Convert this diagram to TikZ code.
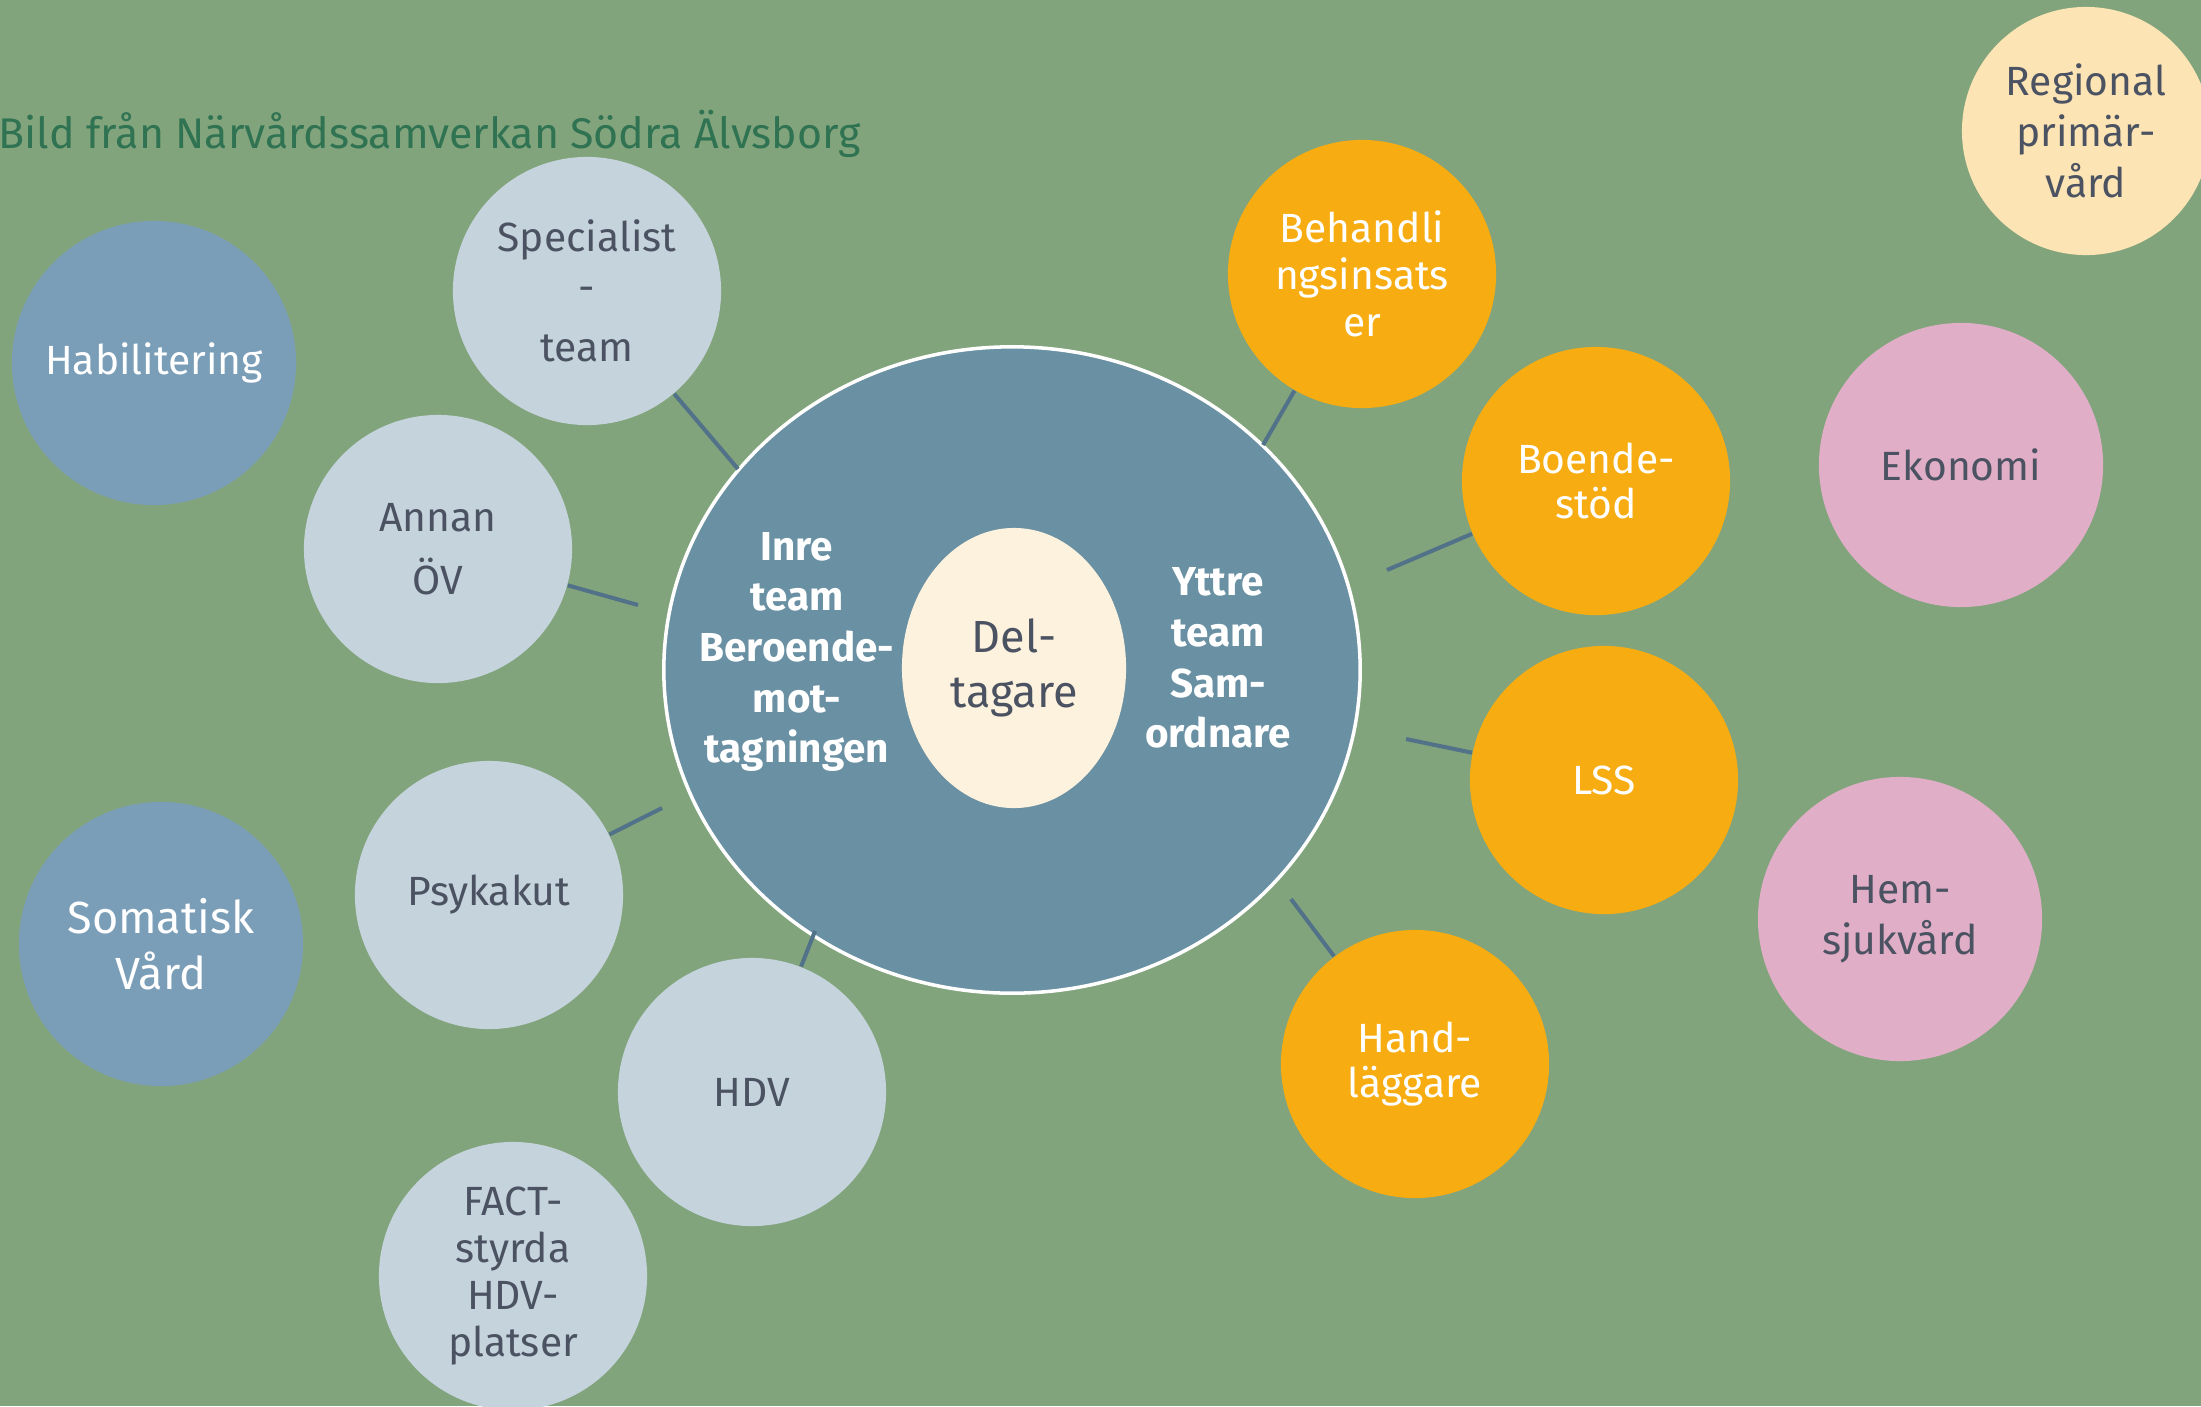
\documentclass[tikz,border=0pt]{standalone}
\usepackage{fontspec}
\setmainfont{Fira Sans}
\usepackage{xcolor}
\usepackage{tikz}
\usetikzlibrary{shapes.geometric}
\definecolor{bg}{HTML}{82A47C}
\definecolor{headline}{HTML}{2F7352}
\definecolor{ink}{HTML}{4B5261}
\definecolor{pale}{HTML}{C5D3DC}
\definecolor{steel}{HTML}{7B9EB8}
\definecolor{core}{HTML}{6A90A3}
\definecolor{cream}{HTML}{FDF2DE}
\definecolor{amber}{HTML}{F7AC11}
\definecolor{rose}{HTML}{E0AEC6}
\definecolor{sand}{HTML}{FCE4B5}
\definecolor{linkc}{HTML}{52728A}
\tikzset{
  bubble/.style={circle, inner sep=0pt, minimum size=2.68cm, align=center, font=\fontsize{11.6}{13.5}\selectfont},
  palebub/.style={bubble, fill=pale, text=ink},
  steelbub/.style={bubble, fill=steel, text=white, minimum size=2.84cm},
  amberbub/.style={bubble, fill=amber, text=white},
  rosebub/.style={bubble, fill=rose, text=ink, minimum size=2.84cm},
  link/.style={draw=linkc, line width=1.15pt},
  teamtxt/.style={text=white, align=center, inner sep=0pt, font=\bfseries\fontsize{11.5}{14.4}\selectfont},
}

\begin{document}
\begin{tikzpicture}[x=0.01cm, y=-0.01cm]
\fill[bg] (0,0) rectangle (2201,1406);
\useasboundingbox (0,0) rectangle (2201,1406);

\node[text=headline, inner sep=0pt, anchor=base west, font=\fontsize{12.2}{14}\selectfont] (title) at (-2,148) {Bild från Närvårdssamverkan Södra Älvsborg};

% centre
\node[ellipse, fill=core, draw=white, line width=1pt, minimum width=6.96cm, minimum height=6.46cm] (outer) at (1012,670) {};
\node[ellipse, fill=cream, inner sep=0pt, minimum width=2.24cm, minimum height=2.8cm, align=center, text=ink, font=\fontsize{12.8}{15.7}\selectfont] (deltag) at (1014,668) {Del-\\tagare};
\node[teamtxt] (inre) at (797,652) {Inre\\team\\Beroende-\\mot-\\tagningen};
\node[teamtxt] (yttre) at (1218,658) {Yttre\\team\\Sam-\\ordnare};

% left side
\node[steelbub] (habil) at (154,363) {Habilitering};
\node[steelbub, font=\fontsize{12.8}{16}\selectfont] (somat) at (161,944) {Somatisk\\Vård};
\node[palebub, font=\fontsize{11.6}{14.2}\selectfont] (spec) at (587,291) {Specialist\\-\\[2.8pt]team};
\node[palebub, font=\fontsize{11.6}{17.9}\selectfont] (annan) at (438,549) {Annan\\ÖV};
\node[palebub] (psyk) at (489,895) {Psykakut};
\node[palebub] (hdv) at (752,1092) {HDV};
\node[palebub, font=\fontsize{11.6}{13.4}\selectfont] (fact) at (513,1276) {FACT-\\styrda\\HDV-\\platser};

% right side
\node[amberbub, font=\fontsize{11.6}{13.4}\selectfont] (behand) at (1362,274) {Behandli\\ngsinsats\\er};
\node[amberbub, font=\fontsize{11.6}{12.8}\selectfont] (boende) at (1596,481) {Boende-\\stöd};
\node[amberbub] (lss) at (1604,780) {LSS};
\node[amberbub, font=\fontsize{11.6}{13}\selectfont] (handl) at (1415,1064) {Hand-\\läggare};
\node[rosebub] (ekon) at (1961,465) {Ekonomi};
\node[rosebub, font=\fontsize{11.6}{14.5}\selectfont] (hemsj) at (1900,919) {Hem-\\sjukvård};
\node[bubble, fill=sand, text=ink, minimum size=2.48cm, font=\fontsize{11.6}{14.5}\selectfont] (region) at (2086,131) {Regional\\primär-\\vård};

% connector ends
\coordinate (spec-e) at (738,469);
\coordinate (annan-e) at (638,605);
\coordinate (psyk-e) at (662,808);
\coordinate (hdv-e) at (815,931);
\coordinate (behand-e) at (1263,445);
\coordinate (boende-e) at (1387,570);
\coordinate (lss-e) at (1406,739);
\coordinate (handl-e) at (1291,899);

\foreach \n in {spec,annan,psyk,hdv,behand,boende,lss,handl}
  \draw[link] (\n) -- (\n-e);
\end{tikzpicture}
\end{document}
